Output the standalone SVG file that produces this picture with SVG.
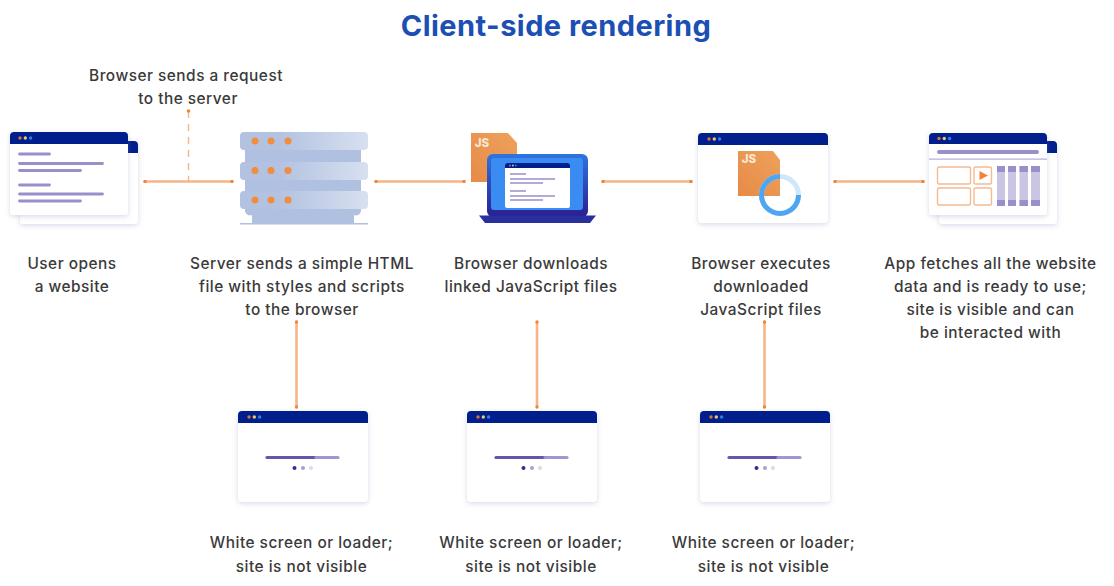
<svg xmlns="http://www.w3.org/2000/svg" width="1114" height="586" viewBox="0 0 1114 586">
<style>
text{font-family:Inter,"Open Sans","Liberation Sans",sans-serif;font-size:15.4px;font-weight:500;letter-spacing:.5px;fill:#3a3a3a;text-anchor:middle}
.title{font-size:29px;font-weight:700;letter-spacing:.45px;fill:#1c4fb4}
.js{font-size:11.5px;font-weight:800;letter-spacing:0;fill:#fbe6d2}
.card{fill:#fff;filter:url(#sh)}
.hd{fill:#001f8c}
.ln{stroke:#9a8fca;stroke-width:2.8;stroke-linecap:round;fill:none}
.con{stroke:#f6b487;stroke-width:2.6;fill:none;marker-start:url(#d);marker-end:url(#d)}
.dash{stroke:#f6b487;stroke-width:1.4;stroke-dasharray:7 6;fill:none}
.box{fill:#fff;stroke:#f4bb92;stroke-width:1.4}
.dot{fill:#f08d3e}
.slab{fill:url(#sl)}
.mid{fill:#b0c0e0}
</style>
<defs>
<filter id="sh" x="-15%" y="-15%" width="130%" height="135%"><feDropShadow dx="0" dy="1.5" stdDeviation="2.5" flood-color="#8e93c4" flood-opacity=".35"/></filter>
<linearGradient id="sl" x1="0" x2="1" y1="0" y2="0"><stop offset=".3" stop-color="#b3c2e1"/><stop offset="1" stop-color="#d8e0f0"/></linearGradient>
<linearGradient id="js" x1="1" x2="0" y1="0" y2="1"><stop offset="0" stop-color="#eda25c"/><stop offset="1" stop-color="#e78a47"/></linearGradient>
<linearGradient id="frame" x1="0" x2="0" y1="0" y2="1"><stop offset="0" stop-color="#2f74e0"/><stop offset="1" stop-color="#2a1f90"/></linearGradient>
<marker id="d" viewBox="0 0 4 4" refX="2" refY="2" markerWidth="3.400" markerHeight="3.400" markerUnits="userSpaceOnUse"><circle cx="2" cy="2" r="2" fill="#f0853a"/></marker>
<g id="lights"><circle cx="0" cy="0" r="1.7" fill="#e0702f"/><circle cx="5.3" cy="0" r="1.7" fill="#ecc86a"/><circle cx="10.6" cy="0" r="1.7" fill="#2f7fe8"/></g>
<path id="winhd" class="hd" d="M0 12V4a4 4 0 0 1 4-4H126a4 4 0 0 1 4 4V12Z"/>
<path id="jsdoc" fill="url(#js)" d="M0 0H37L46 10V49H0Z"/>
<g id="loader">
<rect class="card" width="130" height="91" rx="4"/>
<use href="#winhd"/>
<use href="#lights" x="11" y="6"/>
<path d="M29 46.500H78" stroke="#6754ac" stroke-width="3.200" stroke-linecap="round"/>
<path d="M78 46.500H100" stroke="#a196d0" stroke-width="3.200" stroke-linecap="round"/>
<circle cx="56.500" cy="57" r="2" fill="#3b2a96"/><circle cx="65" cy="57" r="2" fill="#a8a0d4"/><circle cx="73" cy="57" r="2" fill="#dcd9ee"/>
</g>
<g id="pagelines">
<path class="ln" d="M0 0H30M0 9.500H83M0 16.500H61M0 31H30M0 40H83M0 47H61"/>
</g>
</defs>

<rect width="1114" height="586" fill="#fff"/>
<text class="title" x="556" y="36">Client-side rendering</text>

<g id="connectors">
<path class="con" d="M145 181.500H232"/>
<path class="con" d="M376 181.500H464"/>
<path class="con" d="M603 181.500H691"/>
<path class="con" d="M835 181.500H923"/>
<path class="dash" d="M188.500 111V181"/>
<circle cx="188.500" cy="111" r="1.800" fill="#f0853a"/>
<path class="con" d="M296.500 322V407"/>
<path class="con" d="M537 322V407"/>
<path class="con" d="M764.500 322V407"/>
</g>

<g id="user-browser">
<rect class="card" x="20" y="141" width="118" height="83" rx="3"/>
<path class="hd" d="M120 141H134a4 4 0 0 1 4 4V153H120Z"/>
<rect class="card" x="10" y="132" width="118" height="83" rx="3"/>
<path class="hd" d="M10 144V136a4 4 0 0 1 4-4H124a4 4 0 0 1 4 4V144Z"/>
<use href="#lights" x="20" y="138"/>
<use href="#pagelines" x="19.500" y="154"/>
<text x="72" y="268.700">User opens</text>
<text x="72" y="291.700">a website</text>
</g>

<g id="server">
<rect class="mid" x="245" y="148" width="116" height="16"/>
<rect class="mid" x="245" y="178" width="116" height="15"/>
<path class="mid" d="M245 207H361V210a5 5 0 0 1-7 5V223H252V215a5 5 0 0 1-7-5Z"/>
<rect class="slab" x="240" y="132" width="128" height="18" rx="4"/>
<rect class="slab" x="240" y="162" width="128" height="18" rx="4"/>
<rect class="slab" x="240" y="191" width="128" height="18" rx="4"/>
<rect class="mid" x="240" y="223" width="128" height="1.500"/>
<g class="dot"><circle cx="255" cy="141" r="3.500"/><circle cx="271" cy="141" r="3.500"/><circle cx="288" cy="141" r="3.500"/><circle cx="255" cy="170.500" r="3.500"/><circle cx="271" cy="170.500" r="3.500"/><circle cx="288" cy="170.500" r="3.500"/><circle cx="255" cy="200" r="3.500"/><circle cx="271" cy="200" r="3.500"/><circle cx="288" cy="200" r="3.500"/></g>
<text x="302" y="268.700">Server sends a simple HTML</text>
<text x="302" y="291.700">file with styles and scripts</text>
<text x="302" y="314.700">to the browser</text>
</g>

<g id="laptop">
<use href="#jsdoc" x="471" y="133"/>
<text class="js" x="482" y="147">JS</text>
<rect x="487" y="154" width="101" height="63" rx="6" fill="url(#frame)"/>
<rect x="491" y="158" width="92" height="52" rx="3" fill="#3a8cf3"/>
<path d="M479 215.500H596L590 223H485Z" fill="#2a2f9e"/>
<rect x="505" y="163" width="65" height="45" rx="2" fill="#fff"/>
<path class="hd" d="M505 168V165a2 2 0 0 1 2-2H568a2 2 0 0 1 2 2V168Z"/>
<use href="#lights" transform="translate(510 165.500) scale(.55)"/>
<path d="M510 174H526M510 179H555M510 183H543M510 191H526M510 196H555M510 200H543" stroke="#9a8fca" stroke-width="1.500" fill="none"/>
<text x="531" y="268.700">Browser downloads</text>
<text x="531" y="291.700">linked JavaScript files</text>
</g>

<g id="executing">
<rect class="card" x="698" y="133" width="130" height="90" rx="4"/>
<path class="hd" d="M698 145V137a4 4 0 0 1 4-4H824a4 4 0 0 1 4 4V145Z"/>
<use href="#lights" x="709" y="139"/>
<path fill="url(#js)" d="M738 151H773L780 160V196H738Z"/>
<text class="js" x="749" y="163">JS</text>
<circle cx="780" cy="195" r="18.500" fill="none" stroke="#cfe6fb" stroke-width="5"/>
<path d="M780 176.500A18.500 18.500 0 1 0 798.500 195" fill="none" stroke="#4ea6f2" stroke-width="5"/>
<text x="761" y="268.700">Browser executes</text>
<text x="761" y="291.700">downloaded</text>
<text x="761" y="314.700">JavaScript files</text>
</g>

<g id="loaded-app">
<rect class="card" x="939" y="141" width="118" height="83" rx="3"/>
<path class="hd" d="M1040 141H1053a4 4 0 0 1 4 4V153H1040Z"/>
<rect class="card" x="929" y="133" width="118" height="82" rx="3"/>
<path class="hd" d="M929 144V137a4 4 0 0 1 4-4H1043a4 4 0 0 1 4 4V144Z"/>
<use href="#lights" x="939" y="138.500"/>
<rect x="937" y="150" width="102" height="4" rx="2" fill="#9a8fca"/>
<rect x="929" y="158.500" width="118" height="1.200" fill="#b3abd9"/>
<rect class="box" x="937.500" y="167" width="33" height="17" rx="1.500"/>
<rect class="box" x="974" y="167" width="17.500" height="17" rx="1.500"/>
<rect class="box" x="937.500" y="188" width="33" height="17" rx="1.500"/>
<rect class="box" x="974" y="188" width="17.500" height="17" rx="1.500"/>
<path d="M979.500 171L988 175.500L979.500 180Z" fill="#f0853a"/>
<g fill="#c9c5e2"><rect x="997" y="166" width="8" height="40"/><rect x="1008" y="166" width="8" height="40"/><rect x="1019.500" y="166" width="8.500" height="40"/><rect x="1031" y="166" width="9" height="40"/></g>
<g fill="#9a8fca"><rect x="997" y="166" width="8" height="6"/><rect x="1008" y="166" width="8" height="6"/><rect x="1019.500" y="166" width="8.500" height="6"/><rect x="1031" y="166" width="9" height="6"/><rect x="997" y="200" width="8" height="6"/><rect x="1008" y="200" width="8" height="6"/><rect x="1019.500" y="200" width="8.500" height="6"/><rect x="1031" y="200" width="9" height="6"/></g>
<text x="990.500" y="268.700">App fetches all the website</text>
<text x="990.500" y="291.700">data and is ready to use;</text>
<text x="990.500" y="314.700">site is visible and can</text>
<text x="990.500" y="337.700">be interacted with</text>
</g>

<g id="request-label">
<text x="186" y="80.500">Browser sends a request</text>
<text x="188" y="103.500">to the server</text>
</g>

<g id="loader-1">
<use href="#loader" x="238" y="411"/>
<text x="301.500" y="547.700">White screen or loader;</text>
<text x="301.500" y="571.500">site is not visible</text>
</g>
<g id="loader-2">
<use href="#loader" x="467" y="411"/>
<text x="531" y="547.700">White screen or loader;</text>
<text x="531" y="571.500">site is not visible</text>
</g>
<g id="loader-3">
<use href="#loader" x="700" y="411"/>
<text x="763.500" y="547.700">White screen or loader;</text>
<text x="763.500" y="571.500">site is not visible</text>
</g>
</svg>
